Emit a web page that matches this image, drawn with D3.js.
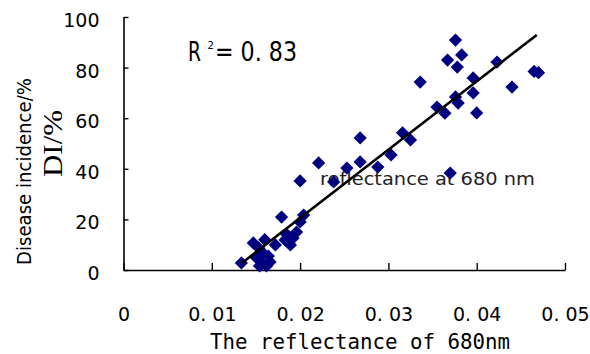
<!DOCTYPE html>
<html lang="en">
<head>
  <meta charset="UTF-8">
  <title>Disease incidence vs reflectance</title>
  <style>
    body, html {
      margin: 0;
      padding: 0;
      background-color: #fff;
    }
    #svg {
      display: block;
    }
  </style>
</head>
<body>
  <svg id="svg" width="590" height="354"></svg>
  <script src="https://d3js.org/d3.v7.min.js"></script>
  <script>
    // values
    const xTicks = [0, 0.01, 0.02, 0.03, 0.04, 0.05]
    const xTickLabels = ['0', '0. 01', '0. 02', '0. 03', '0. 04', '0. 05']
    const yTicks = [0, 20, 40, 60, 80, 100]
    const yTickLabels = ['0', '20', '40', '60', '80', '100']

    const reflectance = [
      0.01335, 0.0147, 0.0153, 0.0157, 0.0157, 0.0154, 0.0162, 0.0166, 0.0164, 0.0172,
      0.0179, 0.0183, 0.0189, 0.0192, 0.0196, 0.0200, 0.0204, 0.0200, 0.0221, 0.0238,
      0.0253, 0.0268, 0.0268, 0.0288, 0.0303, 0.0316, 0.0325, 0.0336, 0.0355, 0.0364,
      0.0370, 0.0376, 0.0383, 0.0367, 0.0378, 0.0376, 0.0379, 0.0396, 0.0396, 0.0400,
      0.0423, 0.0440, 0.0465, 0.0470, 0.0160, 0.0150, 0.0185
    ]
    const incidence = [
      2.8, 10.7, 8.7, 7.1, 2.8, 1.6, 1.6, 3.2, 5.5, 9.9,
      20.9, 11.9, 9.9, 12.6, 15.0, 19.0, 21.7, 35.2, 42.3, 34.8,
      40.3, 42.7, 52.2, 40.7, 45.5, 54.2, 51.4, 74.3, 64.4, 62.0,
      38.3, 90.9, 85.0, 83.0, 80.2, 68.4, 66.0, 75.9, 70.0, 62.1,
      82.2, 72.3, 78.5, 78.0, 12.0, 5.0, 14.0
    ]

    // linear trend line end points
    const trendX = [0.01335, 0.0468]
    const trendY = [2.6, 92.9]

    const svg = d3.select('#svg')

    const xScale = d3.scaleLinear()
      .domain([0, 0.05])
      .range([123.5, 565])
    const yScale = d3.scaleLinear()
      .domain([0, 100])
      .range([270, 17])

    // axes
    const bottomAxis = d3.axisBottom(xScale)
      .tickValues(xTicks)
      .tickFormat((d, i) => xTickLabels[i])
      .tickSizeInner(-7)
      .tickSizeOuter(0)
      .tickPadding(38)
    const leftAxis = d3.axisLeft(yScale)
      .tickValues(yTicks)
      .tickFormat((d, i) => yTickLabels[i])
      .tickSizeInner(-5)
      .tickSizeOuter(0)
      .tickPadding(24)

    const gx = svg.append('g')
      .attr('transform', 'translate(0, 270)')
      .call(bottomAxis)
    const gy = svg.append('g')
      .attr('transform', 'translate(123.5, 0)')
      .call(leftAxis)

    for (const g of [gx, gy]) {
      g.select('.domain').attr('stroke', '#000').attr('stroke-width', 1.6)
      g.selectAll('.tick line').attr('stroke', '#000').attr('stroke-width', 1.4)
      g.selectAll('.tick text')
        .attr('fill', '#000')
        .style('font-family', 'DejaVu Sans')
        .style('font-size', '19px')
    }
    gy.selectAll('.tick text').attr('dy', '0.5em')

    // axis titles
    svg.append('text')
      .text('The reflectance of 680nm')
      .attr('x', 210)
      .attr('y', 349)
      .attr('textLength', 300)
      .attr('lengthAdjust', 'spacingAndGlyphs')
      .style('font-family', 'DejaVu Sans Mono')
      .style('font-size', '22px')

    svg.append('text')
      .text('DI/%')
      .attr('transform', 'translate(62, 177) rotate(-90)')
      .attr('textLength', 67)
      .attr('lengthAdjust', 'spacingAndGlyphs')
      .style('font-family', 'Liberation Serif')
      .style('font-size', '28px')

    svg.append('text')
      .text('Disease incidence/%')
      .attr('transform', 'translate(31, 265) rotate(-90)')
      .attr('textLength', 187)
      .attr('lengthAdjust', 'spacingAndGlyphs')
      .style('font-family', 'DejaVu Sans')
      .style('font-size', '20px')

    // R squared label
    const r2 = svg.append('text')
      .attr('x', 188)
      .attr('y', 61)
      .style('font-family', 'DejaVu Sans')
      .style('font-size', '27px')
    r2.append('tspan').text('R')
      .attr('textLength', 13)
      .attr('lengthAdjust', 'spacingAndGlyphs')
    r2.append('tspan').text('2')
      .attr('x', 207.5)
      .attr('dy', -12)
      .style('font-size', '10px')
    r2.append('tspan').text('= 0. 83')
      .attr('x', 215)
      .attr('dy', 12)
      .attr('textLength', 82)
      .attr('lengthAdjust', 'spacingAndGlyphs')

    // stray label inside the plot
    svg.append('text')
      .text('reflectance at 680 nm')
      .attr('x', 320)
      .attr('y', 185)
      .attr('textLength', 215)
      .attr('lengthAdjust', 'spacingAndGlyphs')
      .attr('fill', '#222')
      .style('font-family', 'DejaVu Sans')
      .style('font-size', '18px')

    // points
    const data = reflectance.map((r, i) => ({ r: r, di: incidence[i] }))
    const diamond = d3.symbol().type(d3.symbolSquare).size(88)
    svg.append('g')
      .selectAll('path')
      .data(data)
      .enter()
      .append('path')
      .attr('d', diamond)
      .attr('transform', d => `translate(${xScale(d.r)}, ${yScale(d.di)}) rotate(45)`)
      .attr('fill', '#000080')

    // trend line
    const line = d3.line()
      .x(d => xScale(d[0]))
      .y(d => yScale(d[1]))
    svg.append('path')
      .datum(trendX.map((x, i) => [x, trendY[i]]))
      .attr('d', line)
      .attr('stroke', '#000')
      .attr('stroke-width', 2.6)
      .attr('fill', 'none')
  </script>
</body>
</html>
